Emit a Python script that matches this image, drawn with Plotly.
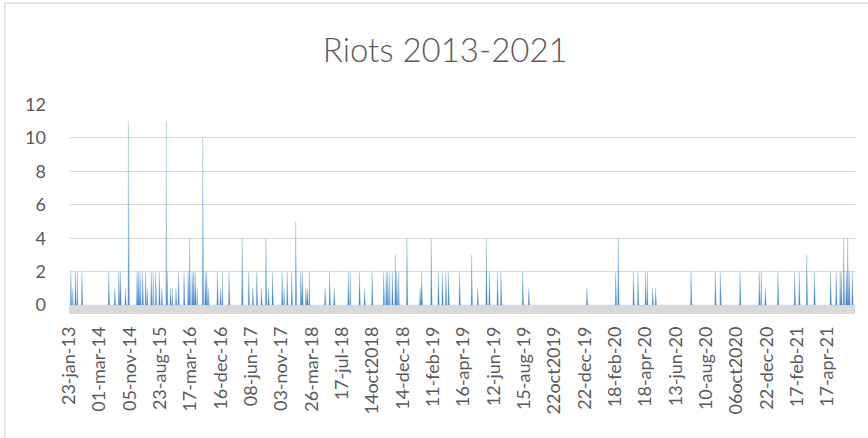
import plotly.graph_objects as go

# number of rows (days) in the sheet and the category labels Excel showed
n_rows = 1555
tick_rows = [0, 60, 120, 180, 240, 300, 360, 420, 480, 540, 600, 660, 720,
             780, 840, 900, 960, 1020, 1080, 1140, 1200, 1260, 1320, 1380, 1440, 1500]
tick_labels = ["23-jan-13", "01-mar-14", "05-nov-14", "23-aug-15", "17-mar-16",
               "16-dec-16", "08-jun-17", "03-nov-17", "26-mar-18", "17-jul-18",
               "14oct2018", "14-dec-18", "11-feb-19", "16-apr-19", "12-jun-19",
               "15-aug-19", "22oct2019", "22-dec-19", "18-feb-20", "18-apr-20",
               "13-jun-20", "10-aug-20", "06oct2020", "22-dec-20", "17-feb-21",
               "17-apr-21"]

# rows with riots (all other rows are 0)
riot_rows = [3, 7, 12, 16, 25, 78, 90, 98, 101, 111, 117, 134, 137, 140, 145,
             151, 155, 162, 166, 171, 178, 183, 192, 194, 200, 204, 211, 216,
             227, 235, 238, 243, 246, 249, 253, 264, 269, 272, 276, 293, 299,
             303, 316, 342, 355, 363, 371, 380, 389, 394, 402, 421, 425, 431,
             440, 448, 458, 461, 468, 471, 475, 506, 515, 524, 552, 556, 574,
             584, 599, 622, 627, 630, 634, 639, 645, 648, 652, 668, 694, 697,
             716, 730, 738, 745, 750, 772, 796, 808, 825, 831, 847, 854, 897,
             909, 1024, 1081, 1086, 1116, 1125, 1140, 1144, 1154, 1160, 1230,
             1278, 1288, 1327, 1365, 1369, 1377, 1402, 1435, 1444, 1459, 1474,
             1506, 1517, 1525, 1527, 1532, 1537, 1540, 1543, 1549]
riot_counts = [2, 1, 2, 2, 2, 2, 1, 2, 2, 1, 11, 2, 2, 2, 2,
               2, 1, 2, 2, 2, 2, 1, 11, 2, 1, 1, 1, 2,
               2, 2, 4, 2, 2, 2, 1, 10, 2, 2, 1, 2, 1,
               2, 2, 4, 2, 1, 2, 1, 4, 1, 2, 2, 1, 2,
               2, 5, 2, 2, 1, 1, 2, 1, 2, 1, 2, 2, 2,
               1, 2, 2, 2, 2, 2, 2, 3, 2, 2, 4, 1, 2,
               4, 2, 2, 2, 2, 2, 3, 1, 4, 2, 2, 2, 2,
               1, 1, 2, 4, 2, 2, 2, 2, 1, 1, 2,
               2, 2, 2, 2, 2, 1, 2, 2, 2, 3, 2,
               2, 2, 2, 2, 4, 2, 4, 2, 2]

values = [0] * n_rows
for r, c in zip(riot_rows, riot_counts):
    values[r] = c

grey_txt = "#595959"
font = "Lato, Roboto, Arial, sans-serif"

fig = go.Figure()
fig.add_trace(
    go.Scatter(
        x=list(range(n_rows)),
        y=values,
        mode="lines",
        line=dict(width=0.6, color="rgba(91,155,213,0.4)"),
        fill="tozeroy",
        fillgradient=dict(
            type="vertical",
            start=0,
            stop=12,
            colorscale=[[0, "#4686cc"], [0.3, "#86b6e4"], [1, "#f4f8fd"]],
        ),
        hoverinfo="skip",
    )
)

# thick grey category axis band under zero
fig.add_shape(type="rect", xref="paper", yref="y", x0=0, x1=1, y0=-0.53, y1=0,
              fillcolor="#d9d9d9", line_width=0, layer="above")
# chart border (only left and top edges are inside the picture)
fig.add_shape(type="rect", xref="paper", yref="paper", x0=-0.0814, x1=1.2,
              y0=-1.2, y1=1.481, line=dict(color="#d9d9d9", width=1.5),
              fillcolor="rgba(0,0,0,0)")

fig.update_layout(
    width=868,
    height=438,
    margin=dict(l=69, r=13, t=104, b=124, autoexpand=False),
    paper_bgcolor="white",
    plot_bgcolor="white",
    showlegend=False,
    title=dict(text="Riots 2013-2021", x=0.513, xanchor="center", y=0.885,
               yanchor="middle",
               font=dict(family=font, size=33, weight=300, color=grey_txt)),
    font=dict(family=font, color=grey_txt),
)
fig.update_xaxes(
    range=[-0.5, n_rows - 0.5],
    tickmode="array",
    tickvals=tick_rows,
    ticktext=tick_labels,
    tickangle=-90,
    tickfont=dict(size=18, color=grey_txt),
    ticklabelstandoff=8,
    showgrid=False,
    zeroline=False,
    showline=False,
    ticks="",
    automargin=False,
)
fig.update_yaxes(
    range=[-0.53, 12.02],
    tickvals=[0, 2, 4, 6, 8, 10, 12],
    tickfont=dict(size=18, color=grey_txt),
    showgrid=True,
    gridcolor="#d9d9d9",
    gridwidth=1.3,
    zeroline=False,
    showline=False,
    ticks="",
    ticklabelstandoff=22,
    automargin=False,
)

# drop the browser's default 8px body margin so the figure sits at (0, 0)
fig.write_html("out.html", config={"displayModeBar": False},
               post_script="document.body.style.margin='0';")
